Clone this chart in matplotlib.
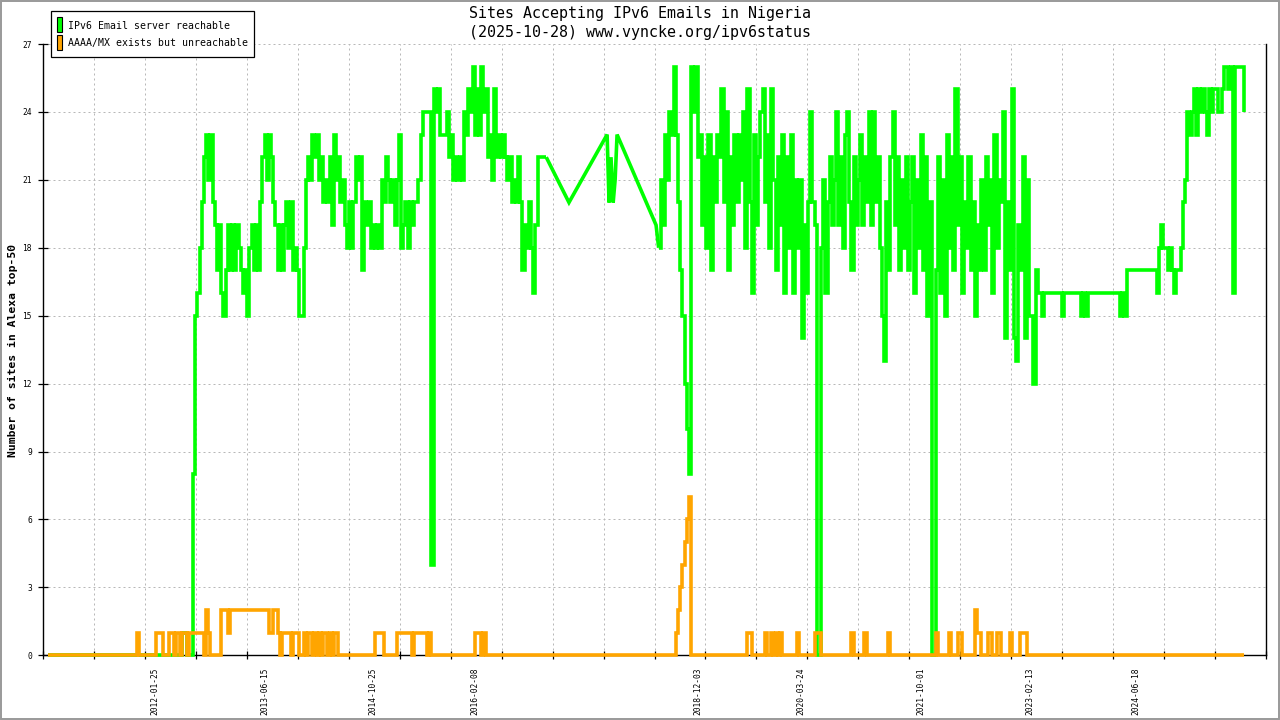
import matplotlib
matplotlib.use("Agg")
import matplotlib.pyplot as plt
import matplotlib.dates as mdates
from matplotlib.patches import Rectangle
import pandas as pd

# ---------------- texts ----------------
title_line1 = "Sites Accepting IPv6 Emails in Nigeria"
title_line2 = "(2025-10-28) www.vyncke.org/ipv6status"
y_label = "Number of sites in Alexa top-50"
legend_labels = ["IPv6 Email server reachable", "AAAA/MX exists but unreachable"]
x_tick_labels = ["2012-01-25", "2013-06-15", "2014-10-25", "2016-02-08", "2018-12-03",
                 "2020-03-24", "2021-10-01", "2023-02-13", "2024-06-18"]
y_ticks = [0, 3, 6, 9, 12, 15, 18, 21, 24, 27]
x_range = ["2010-08-28", "2026-02-07"]

# ---------------- data ----------------
# period A : one sample every 10 days starting 2010-09-18
grid_a_start = "2010-09-18"
green_a_2010 = [0] * 62 + [1, 1, 0, 0, 0, 8, 15, 16]
green_a_2012 = [18, 20, 22, 23, 21, 23, 20, 19, 17, 19, 16, 15, 17, 19, 17, 19, 17, 19, 18, 17, 16, 17, 15]
green_a_2013 = [18, 19, 17, 19, 17, 20, 22, 23, 21, 23, 22, 20, 19, 17, 19, 17, 19, 20, 18, 20, 17, 18, 17]
green_a_2014 = [15, 15, 18, 21, 22, 21, 23, 22, 23, 21, 22, 20, 21, 20, 22, 19, 23, 21, 22, 20, 21, 19, 18]
green_a_2014b = [20, 18, 20, 22, 21, 22, 17, 20, 19, 20, 18, 19, 18, 19, 18, 21, 20, 22, 21, 20, 21, 19, 21]
green_a_2015 = [23, 18, 19, 20, 18, 20, 19, 20, 20, 21, 23, 24, 24, 24, 24, 4, 25, 24, 25, 23, 23, 23, 24]
green_a_2015b = [22, 23, 21, 22, 21, 22, 21, 24, 23, 25, 24, 26, 23, 25, 23, 26, 24, 25, 22, 23, 21, 25, 22]
green_a_2016 = [23, 22, 23, 22, 21, 22, 20, 21, 20, 22, 20, 17, 19, 18, 20, 18, 16, 19, 22, 22, 22, 22, 22]

orange_a = ([0] * 41 + [1] + [0] * 8 + [1, 1, 1] + [0] * 3
            + [1, 1, 0, 1, 1, 0, 1, 1, 0] + [1] * 7 + [0, 2, 1] + [0] * 5
            + [2, 2, 2, 1] + [2] * 18 + [1, 1, 2, 2, 1, 0] + [1] * 4 + [0] + [1] * 3
            + [0, 0] + [1, 0, 1, 1, 0, 1, 0, 1, 0, 1, 1, 0, 1, 0, 1, 1] + [0] * 17
            + [1] * 4 + [0] * 6 + [1] * 7 + [0] + [1] * 6 + [0, 1, 0] + [0] * 19
            + [1, 1, 1] + [0, 1] + [0] * 29)

# sparse measurements 2017 - 2018
sparse_dates = ["2017-04-19", "2017-10-12", "2017-10-21", "2017-10-30",
                "2017-11-09", "2017-11-18", "2017-11-27", "2018-05-26"]
green_sparse = [20, 23, 20, 22, 20, 21, 23, 19]
orange_sparse = [0, 0, 0, 0, 0, 0, 0, 0]

# period B : one sample every 10 days starting 2018-06-07
grid_b_start = "2018-06-07"
green_b_2018 = [18, 21, 19, 23, 21, 24, 23, 26, 23, 20, 17, 15, 12, 10, 8, 26, 24, 26, 22, 23, 19, 22, 18]
green_b_2019 = [23, 17, 22, 20, 23, 22, 25, 20, 24, 17, 22, 19, 23, 20, 23, 21, 24, 18, 25, 20, 16, 23, 19]
green_b_2019b = [22, 24, 25, 20, 23, 18, 25, 21, 17, 22, 19, 23, 16, 22, 18, 23, 16, 21, 18, 21, 14, 19, 16]
green_b_2020 = [20, 24, 20, 19, 0, 0, 18, 21, 16, 20, 22, 19, 21, 24, 19, 22, 18, 23, 24, 20, 17, 22, 19]
green_b_2020b = [21, 23, 19, 22, 20, 24, 19, 24, 20, 22, 18, 15, 13, 20, 17, 22, 24, 19, 22, 17, 21, 18, 22]
green_b_2021 = [17, 20, 22, 16, 21, 18, 23, 17, 22, 15, 20, 0, 0, 17, 22, 16, 21, 15, 23, 18, 22, 17, 25]
green_b_2022 = [19, 22, 16, 20, 18, 22, 17, 20, 15, 19, 17, 21, 17, 22, 19, 21, 16, 23, 18, 21, 20, 24, 14]
green_b_2022b = [20, 17, 25, 14, 13, 19, 17, 22, 14, 21, 15, 15, 12, 17, 16, 16, 15, 16, 16, 16, 16, 16, 16]
green_b_2023 = [16, 16, 15, 16, 16, 16, 16, 16, 16, 16, 16, 15, 16, 15, 16, 16, 16, 16, 16, 16, 16, 16, 16]
green_b_2024 = [16, 16, 16, 16, 16, 16, 15, 16, 15, 17, 17, 17, 17, 17, 17, 17, 17, 17, 17, 17, 17, 17, 17]
green_b_2024b = [16, 18, 19, 18, 18, 17, 18, 17, 16, 17, 17, 18, 20, 21, 24, 23, 24, 25, 23, 25, 24, 25, 24]
green_b_2025 = [23, 25, 24, 25, 25, 24, 24, 25, 26, 26, 25, 26, 16, 26, 26, 26, 26, 24]

orange_b = ([0] * 8 + [1, 2, 3, 4, 5, 6, 7] + [0] * 26 + [1, 1] + [0] * 6 + [1] + [0, 0]
            + [1, 0, 1, 0, 1] + [0] * 7 + [1] + [0] * 7 + [1, 1, 1] + [0] * 14 + [1]
            + [0] * 5 + [1] + [0] * 10 + [1] + [0] * 21 + [1] + [0] * 5 + [1] + [0] * 3
            + [1, 1] + [0] * 6 + [2, 1, 1] + [0] * 3 + [1, 1] + [0, 0] + [1, 1] + [0] * 4
            + [1] + [0] * 4 + [1, 1, 1] + [0] * 101)

green_a = (green_a_2010 + green_a_2012 + green_a_2013 + green_a_2014 + green_a_2014b
           + green_a_2015 + green_a_2015b + green_a_2016)
green_b = (green_b_2018 + green_b_2019 + green_b_2019b + green_b_2020 + green_b_2020b
           + green_b_2021 + green_b_2022 + green_b_2022b + green_b_2023 + green_b_2024
           + green_b_2024b + green_b_2025)

dates_ga = pd.date_range(grid_a_start, periods=len(green_a), freq="10D")
dates_oa = pd.date_range(grid_a_start, periods=len(orange_a), freq="10D")
dates_gb = pd.date_range(grid_b_start, periods=len(green_b), freq="10D")
dates_ob = pd.date_range(grid_b_start, periods=len(orange_b), freq="10D")
dates_sp = pd.to_datetime(sparse_dates)

# ---------------- styling ----------------
W, H = 1280, 720
GREEN = "#00ff00"
ORANGE = "#ffa500"
MONO = "DejaVu Sans Mono"
LW = 2.6

fig = plt.figure(figsize=(W / 100, H / 100), dpi=100)
fig.patch.set_facecolor("white")


def fx(px):
    return px / W


def fy(py):
    return 1 - py / H


ax_l, ax_r, ax_t, ax_b = 43.4, 1265.7, 44.0, 655.3
ax = fig.add_axes([fx(ax_l), fy(ax_b), fx(ax_r) - fx(ax_l), (ax_b - ax_t) / H])

line_kw = dict(lw=LW, solid_joinstyle="miter", solid_capstyle="butt", clip_on=False)

xs = [dates_ga[-1]] + list(dates_sp) + [dates_gb[0]]
ax.plot(dates_ga, green_a, drawstyle="steps-post", color=GREEN, zorder=3, **line_kw)
ax.plot(xs, [green_a[-1]] + green_sparse + [green_b[0]], color=GREEN, zorder=3, **line_kw)
ax.plot(dates_gb, green_b, drawstyle="steps-post", color=GREEN, zorder=3, **line_kw)

xs_o = [dates_oa[-1]] + list(dates_sp) + [dates_ob[0]]
ax.plot(dates_oa, orange_a, drawstyle="steps-post", color=ORANGE, zorder=4, **line_kw)
ax.plot(xs_o, [orange_a[-1]] + orange_sparse + [orange_b[0]], color=ORANGE, zorder=4, **line_kw)
ax.plot(dates_ob, orange_b, drawstyle="steps-post", color=ORANGE, zorder=4, **line_kw)

# axes limits / ticks
xmin = mdates.date2num(pd.Timestamp(x_range[0]))
xmax = mdates.date2num(pd.Timestamp(x_range[1]))
ax.set_xlim(xmin, xmax)
ax.set_ylim(0, 27)

major = [xmin + k * (xmax - xmin) / 24 for k in range(25)]
ax.set_xticks(major)
ax.set_xticklabels([])
ax.set_xticks(mdates.date2num(pd.to_datetime(x_tick_labels)), minor=True)
ax.set_xticklabels(x_tick_labels, minor=True, rotation=90, fontsize=5.7, family=MONO)
ax.tick_params(axis="x", which="major", direction="inout", length=6.0, width=0.9)
ax.tick_params(axis="x", which="minor", length=0, pad=8.8)

ax.set_yticks(y_ticks)
ax.set_yticklabels([str(v) for v in y_ticks], fontsize=5.7, family=MONO)
ax.tick_params(axis="y", direction="inout", length=7.2, width=0.9, pad=4.6)

ax.grid(True, which="major", color="#b8b8b8", lw=0.72, linestyle=(0, (2, 3)))
ax.set_axisbelow(True)

for s in ["left", "bottom", "right"]:
    ax.spines[s].set_color("black")
    ax.spines[s].set_linewidth(1.0)
    ax.spines[s].set_zorder(2)
ax.spines["top"].set_visible(False)

# titles and y label
fig.text(0.5, fy(13.5), title_line1, ha="center", va="center", fontsize=10.8, family=MONO)
fig.text(0.5, fy(32.5), title_line2, ha="center", va="center", fontsize=10.8, family=MONO)
fig.text(fx(13), fy(350), y_label, rotation=90, ha="center", va="center",
         fontsize=8.2, family=MONO, weight="bold")

# legend box
fig.add_artist(Rectangle((fx(50.5), fy(57.3)), fx(254.3) - fx(50.5), (57.3 - 10.7) / H,
                         transform=fig.transFigure, facecolor="white", edgecolor="black",
                         lw=0.9, zorder=10))
for i, (lab, col) in enumerate(zip(legend_labels, [GREEN, ORANGE])):
    top = 17.3 + i * 17.4
    fig.add_artist(Rectangle((fx(56.5), fy(top + 14.8)), fx(62.3) - fx(56.5), 14.8 / H,
                             transform=fig.transFigure, facecolor=col, edgecolor="black",
                             lw=0.8, zorder=11))
    fig.text(fx(68.3), fy(top + 8.5), lab, ha="left", va="center", fontsize=7.1,
             family=MONO, zorder=12)

# outer grey frame
fig.add_artist(Rectangle((fx(0.8), fy(719.2)), fx(1278.4), 718.4 / H, transform=fig.transFigure,
                         fill=False, edgecolor="#999999", lw=1.4, zorder=20))

fig.savefig("out.png", dpi=100)
